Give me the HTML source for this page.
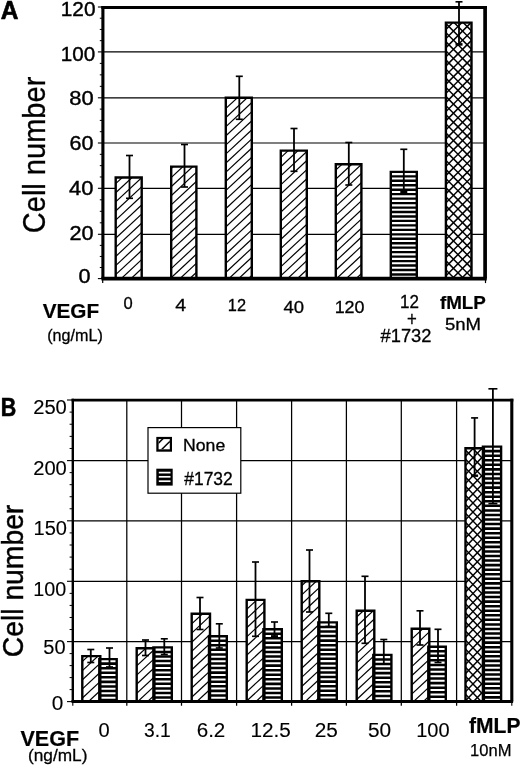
<!DOCTYPE html>
<html><head><meta charset="utf-8"><title>Figure</title>
<style>html,body{margin:0;padding:0;background:#fff;}svg{display:block;will-change:transform;filter:grayscale(1) blur(0.35px);}</style></head><body>
<svg width="520" height="768" viewBox="0 0 520 768" font-family='"Liberation Sans", sans-serif' fill="#000" stroke="#000">
<rect x="0" y="0" width="520" height="768" fill="#fff" stroke="none"/>
<line x1="102.90" y1="51.90" x2="485.00" y2="51.90" stroke-width="1.2"/>
<line x1="102.90" y1="97.80" x2="485.00" y2="97.80" stroke-width="1.2"/>
<line x1="102.90" y1="143.00" x2="485.00" y2="143.00" stroke-width="1.2"/>
<line x1="102.90" y1="188.30" x2="485.00" y2="188.30" stroke-width="1.2"/>
<line x1="102.90" y1="234.30" x2="485.00" y2="234.30" stroke-width="1.2"/>
<line x1="97.90" y1="278.60" x2="102.90" y2="278.60" stroke-width="1.1"/>
<line x1="97.90" y1="234.30" x2="102.90" y2="234.30" stroke-width="1.1"/>
<line x1="97.90" y1="188.30" x2="102.90" y2="188.30" stroke-width="1.1"/>
<line x1="97.90" y1="143.00" x2="102.90" y2="143.00" stroke-width="1.1"/>
<line x1="97.90" y1="97.80" x2="102.90" y2="97.80" stroke-width="1.1"/>
<line x1="97.90" y1="51.90" x2="102.90" y2="51.90" stroke-width="1.1"/>
<line x1="97.90" y1="7.00" x2="102.90" y2="7.00" stroke-width="1.1"/>
<line x1="99.80" y1="267.53" x2="102.90" y2="267.53" stroke-width="1.0"/>
<line x1="99.80" y1="256.45" x2="102.90" y2="256.45" stroke-width="1.0"/>
<line x1="99.80" y1="245.38" x2="102.90" y2="245.38" stroke-width="1.0"/>
<line x1="99.80" y1="222.80" x2="102.90" y2="222.80" stroke-width="1.0"/>
<line x1="99.80" y1="211.30" x2="102.90" y2="211.30" stroke-width="1.0"/>
<line x1="99.80" y1="199.80" x2="102.90" y2="199.80" stroke-width="1.0"/>
<line x1="99.80" y1="176.98" x2="102.90" y2="176.98" stroke-width="1.0"/>
<line x1="99.80" y1="165.65" x2="102.90" y2="165.65" stroke-width="1.0"/>
<line x1="99.80" y1="154.32" x2="102.90" y2="154.32" stroke-width="1.0"/>
<line x1="99.80" y1="131.70" x2="102.90" y2="131.70" stroke-width="1.0"/>
<line x1="99.80" y1="120.40" x2="102.90" y2="120.40" stroke-width="1.0"/>
<line x1="99.80" y1="109.10" x2="102.90" y2="109.10" stroke-width="1.0"/>
<line x1="99.80" y1="86.33" x2="102.90" y2="86.33" stroke-width="1.0"/>
<line x1="99.80" y1="74.85" x2="102.90" y2="74.85" stroke-width="1.0"/>
<line x1="99.80" y1="63.38" x2="102.90" y2="63.38" stroke-width="1.0"/>
<line x1="99.80" y1="40.67" x2="102.90" y2="40.67" stroke-width="1.0"/>
<line x1="99.80" y1="29.45" x2="102.90" y2="29.45" stroke-width="1.0"/>
<line x1="99.80" y1="18.23" x2="102.90" y2="18.23" stroke-width="1.0"/>
<clipPath id="c1"><rect x="115.70" y="177.50" width="26.00" height="101.10"/></clipPath>
<rect x="115.70" y="177.50" width="26.00" height="101.10" fill="#fff" stroke="none"/>
<g clip-path="url(#c1)">
<line x1="113.70" y1="167.31" x2="143.70" y2="139.41" stroke-width="1.2"/>
<line x1="113.70" y1="176.41" x2="143.70" y2="148.51" stroke-width="1.2"/>
<line x1="113.70" y1="185.51" x2="143.70" y2="157.61" stroke-width="1.2"/>
<line x1="113.70" y1="194.61" x2="143.70" y2="166.71" stroke-width="1.2"/>
<line x1="113.70" y1="203.71" x2="143.70" y2="175.81" stroke-width="1.2"/>
<line x1="113.70" y1="212.81" x2="143.70" y2="184.91" stroke-width="1.2"/>
<line x1="113.70" y1="221.91" x2="143.70" y2="194.01" stroke-width="1.2"/>
<line x1="113.70" y1="231.01" x2="143.70" y2="203.11" stroke-width="1.2"/>
<line x1="113.70" y1="240.11" x2="143.70" y2="212.21" stroke-width="1.2"/>
<line x1="113.70" y1="249.21" x2="143.70" y2="221.31" stroke-width="1.2"/>
<line x1="113.70" y1="258.31" x2="143.70" y2="230.41" stroke-width="1.2"/>
<line x1="113.70" y1="267.41" x2="143.70" y2="239.51" stroke-width="1.2"/>
<line x1="113.70" y1="276.51" x2="143.70" y2="248.61" stroke-width="1.2"/>
<line x1="113.70" y1="285.61" x2="143.70" y2="257.71" stroke-width="1.2"/>
<line x1="113.70" y1="294.71" x2="143.70" y2="266.81" stroke-width="1.2"/>
<line x1="113.70" y1="303.81" x2="143.70" y2="275.91" stroke-width="1.2"/>
<line x1="113.70" y1="312.91" x2="143.70" y2="285.01" stroke-width="1.2"/>
<line x1="113.70" y1="322.01" x2="143.70" y2="294.11" stroke-width="1.2"/>
</g>
<clipPath id="c2"><rect x="171.20" y="166.60" width="25.20" height="112.00"/></clipPath>
<rect x="171.20" y="166.60" width="25.20" height="112.00" fill="#fff" stroke="none"/>
<g clip-path="url(#c2)">
<line x1="169.20" y1="152.09" x2="198.40" y2="124.94" stroke-width="1.2"/>
<line x1="169.20" y1="161.19" x2="198.40" y2="134.04" stroke-width="1.2"/>
<line x1="169.20" y1="170.29" x2="198.40" y2="143.14" stroke-width="1.2"/>
<line x1="169.20" y1="179.39" x2="198.40" y2="152.24" stroke-width="1.2"/>
<line x1="169.20" y1="188.49" x2="198.40" y2="161.34" stroke-width="1.2"/>
<line x1="169.20" y1="197.59" x2="198.40" y2="170.44" stroke-width="1.2"/>
<line x1="169.20" y1="206.69" x2="198.40" y2="179.54" stroke-width="1.2"/>
<line x1="169.20" y1="215.79" x2="198.40" y2="188.64" stroke-width="1.2"/>
<line x1="169.20" y1="224.89" x2="198.40" y2="197.74" stroke-width="1.2"/>
<line x1="169.20" y1="233.99" x2="198.40" y2="206.84" stroke-width="1.2"/>
<line x1="169.20" y1="243.09" x2="198.40" y2="215.94" stroke-width="1.2"/>
<line x1="169.20" y1="252.19" x2="198.40" y2="225.04" stroke-width="1.2"/>
<line x1="169.20" y1="261.29" x2="198.40" y2="234.14" stroke-width="1.2"/>
<line x1="169.20" y1="270.39" x2="198.40" y2="243.24" stroke-width="1.2"/>
<line x1="169.20" y1="279.49" x2="198.40" y2="252.34" stroke-width="1.2"/>
<line x1="169.20" y1="288.59" x2="198.40" y2="261.44" stroke-width="1.2"/>
<line x1="169.20" y1="297.69" x2="198.40" y2="270.54" stroke-width="1.2"/>
<line x1="169.20" y1="306.79" x2="198.40" y2="279.64" stroke-width="1.2"/>
<line x1="169.20" y1="315.89" x2="198.40" y2="288.74" stroke-width="1.2"/>
</g>
<clipPath id="c3"><rect x="225.80" y="97.80" width="26.00" height="180.80"/></clipPath>
<rect x="225.80" y="97.80" width="26.00" height="180.80" fill="#fff" stroke="none"/>
<g clip-path="url(#c3)">
<line x1="223.80" y1="83.12" x2="253.80" y2="55.22" stroke-width="1.2"/>
<line x1="223.80" y1="92.22" x2="253.80" y2="64.32" stroke-width="1.2"/>
<line x1="223.80" y1="101.32" x2="253.80" y2="73.42" stroke-width="1.2"/>
<line x1="223.80" y1="110.42" x2="253.80" y2="82.52" stroke-width="1.2"/>
<line x1="223.80" y1="119.52" x2="253.80" y2="91.62" stroke-width="1.2"/>
<line x1="223.80" y1="128.62" x2="253.80" y2="100.72" stroke-width="1.2"/>
<line x1="223.80" y1="137.72" x2="253.80" y2="109.82" stroke-width="1.2"/>
<line x1="223.80" y1="146.82" x2="253.80" y2="118.92" stroke-width="1.2"/>
<line x1="223.80" y1="155.92" x2="253.80" y2="128.02" stroke-width="1.2"/>
<line x1="223.80" y1="165.02" x2="253.80" y2="137.12" stroke-width="1.2"/>
<line x1="223.80" y1="174.12" x2="253.80" y2="146.22" stroke-width="1.2"/>
<line x1="223.80" y1="183.22" x2="253.80" y2="155.32" stroke-width="1.2"/>
<line x1="223.80" y1="192.32" x2="253.80" y2="164.42" stroke-width="1.2"/>
<line x1="223.80" y1="201.42" x2="253.80" y2="173.52" stroke-width="1.2"/>
<line x1="223.80" y1="210.52" x2="253.80" y2="182.62" stroke-width="1.2"/>
<line x1="223.80" y1="219.62" x2="253.80" y2="191.72" stroke-width="1.2"/>
<line x1="223.80" y1="228.72" x2="253.80" y2="200.82" stroke-width="1.2"/>
<line x1="223.80" y1="237.82" x2="253.80" y2="209.92" stroke-width="1.2"/>
<line x1="223.80" y1="246.92" x2="253.80" y2="219.02" stroke-width="1.2"/>
<line x1="223.80" y1="256.02" x2="253.80" y2="228.12" stroke-width="1.2"/>
<line x1="223.80" y1="265.12" x2="253.80" y2="237.22" stroke-width="1.2"/>
<line x1="223.80" y1="274.22" x2="253.80" y2="246.32" stroke-width="1.2"/>
<line x1="223.80" y1="283.32" x2="253.80" y2="255.42" stroke-width="1.2"/>
<line x1="223.80" y1="292.42" x2="253.80" y2="264.52" stroke-width="1.2"/>
<line x1="223.80" y1="301.52" x2="253.80" y2="273.62" stroke-width="1.2"/>
<line x1="223.80" y1="310.62" x2="253.80" y2="282.72" stroke-width="1.2"/>
<line x1="223.80" y1="319.72" x2="253.80" y2="291.82" stroke-width="1.2"/>
</g>
<clipPath id="c4"><rect x="280.80" y="150.60" width="26.00" height="128.00"/></clipPath>
<rect x="280.80" y="150.60" width="26.00" height="128.00" fill="#fff" stroke="none"/>
<g clip-path="url(#c4)">
<line x1="278.80" y1="141.17" x2="308.80" y2="113.27" stroke-width="1.2"/>
<line x1="278.80" y1="150.27" x2="308.80" y2="122.37" stroke-width="1.2"/>
<line x1="278.80" y1="159.37" x2="308.80" y2="131.47" stroke-width="1.2"/>
<line x1="278.80" y1="168.47" x2="308.80" y2="140.57" stroke-width="1.2"/>
<line x1="278.80" y1="177.57" x2="308.80" y2="149.67" stroke-width="1.2"/>
<line x1="278.80" y1="186.67" x2="308.80" y2="158.77" stroke-width="1.2"/>
<line x1="278.80" y1="195.77" x2="308.80" y2="167.87" stroke-width="1.2"/>
<line x1="278.80" y1="204.87" x2="308.80" y2="176.97" stroke-width="1.2"/>
<line x1="278.80" y1="213.97" x2="308.80" y2="186.07" stroke-width="1.2"/>
<line x1="278.80" y1="223.07" x2="308.80" y2="195.17" stroke-width="1.2"/>
<line x1="278.80" y1="232.17" x2="308.80" y2="204.27" stroke-width="1.2"/>
<line x1="278.80" y1="241.27" x2="308.80" y2="213.37" stroke-width="1.2"/>
<line x1="278.80" y1="250.37" x2="308.80" y2="222.47" stroke-width="1.2"/>
<line x1="278.80" y1="259.47" x2="308.80" y2="231.57" stroke-width="1.2"/>
<line x1="278.80" y1="268.57" x2="308.80" y2="240.67" stroke-width="1.2"/>
<line x1="278.80" y1="277.67" x2="308.80" y2="249.77" stroke-width="1.2"/>
<line x1="278.80" y1="286.77" x2="308.80" y2="258.87" stroke-width="1.2"/>
<line x1="278.80" y1="295.87" x2="308.80" y2="267.97" stroke-width="1.2"/>
<line x1="278.80" y1="304.97" x2="308.80" y2="277.07" stroke-width="1.2"/>
<line x1="278.80" y1="314.07" x2="308.80" y2="286.17" stroke-width="1.2"/>
</g>
<clipPath id="c5"><rect x="335.80" y="164.20" width="25.60" height="114.40"/></clipPath>
<rect x="335.80" y="164.20" width="25.60" height="114.40" fill="#fff" stroke="none"/>
<g clip-path="url(#c5)">
<line x1="333.80" y1="153.72" x2="363.40" y2="126.19" stroke-width="1.2"/>
<line x1="333.80" y1="162.82" x2="363.40" y2="135.29" stroke-width="1.2"/>
<line x1="333.80" y1="171.92" x2="363.40" y2="144.39" stroke-width="1.2"/>
<line x1="333.80" y1="181.02" x2="363.40" y2="153.49" stroke-width="1.2"/>
<line x1="333.80" y1="190.12" x2="363.40" y2="162.59" stroke-width="1.2"/>
<line x1="333.80" y1="199.22" x2="363.40" y2="171.69" stroke-width="1.2"/>
<line x1="333.80" y1="208.32" x2="363.40" y2="180.79" stroke-width="1.2"/>
<line x1="333.80" y1="217.42" x2="363.40" y2="189.89" stroke-width="1.2"/>
<line x1="333.80" y1="226.52" x2="363.40" y2="198.99" stroke-width="1.2"/>
<line x1="333.80" y1="235.62" x2="363.40" y2="208.09" stroke-width="1.2"/>
<line x1="333.80" y1="244.72" x2="363.40" y2="217.19" stroke-width="1.2"/>
<line x1="333.80" y1="253.82" x2="363.40" y2="226.29" stroke-width="1.2"/>
<line x1="333.80" y1="262.92" x2="363.40" y2="235.39" stroke-width="1.2"/>
<line x1="333.80" y1="272.02" x2="363.40" y2="244.49" stroke-width="1.2"/>
<line x1="333.80" y1="281.12" x2="363.40" y2="253.59" stroke-width="1.2"/>
<line x1="333.80" y1="290.22" x2="363.40" y2="262.69" stroke-width="1.2"/>
<line x1="333.80" y1="299.32" x2="363.40" y2="271.79" stroke-width="1.2"/>
<line x1="333.80" y1="308.42" x2="363.40" y2="280.89" stroke-width="1.2"/>
<line x1="333.80" y1="317.52" x2="363.40" y2="289.99" stroke-width="1.2"/>
</g>
<clipPath id="c6"><rect x="390.80" y="171.90" width="26.00" height="106.70"/></clipPath>
<rect x="390.80" y="171.90" width="26.00" height="106.70" fill="#fff" stroke="none"/>
<g clip-path="url(#c6)">
<line x1="389.80" y1="176.33" x2="417.80" y2="176.33" stroke-width="2.35"/>
<line x1="389.80" y1="180.79" x2="417.80" y2="180.79" stroke-width="2.35"/>
<line x1="389.80" y1="185.25" x2="417.80" y2="185.25" stroke-width="2.35"/>
<line x1="389.80" y1="189.71" x2="417.80" y2="189.71" stroke-width="2.35"/>
<line x1="389.80" y1="194.17" x2="417.80" y2="194.17" stroke-width="2.35"/>
<line x1="389.80" y1="198.63" x2="417.80" y2="198.63" stroke-width="2.35"/>
<line x1="389.80" y1="203.09" x2="417.80" y2="203.09" stroke-width="2.35"/>
<line x1="389.80" y1="207.55" x2="417.80" y2="207.55" stroke-width="2.35"/>
<line x1="389.80" y1="212.01" x2="417.80" y2="212.01" stroke-width="2.35"/>
<line x1="389.80" y1="216.47" x2="417.80" y2="216.47" stroke-width="2.35"/>
<line x1="389.80" y1="220.93" x2="417.80" y2="220.93" stroke-width="2.35"/>
<line x1="389.80" y1="225.39" x2="417.80" y2="225.39" stroke-width="2.35"/>
<line x1="389.80" y1="229.85" x2="417.80" y2="229.85" stroke-width="2.35"/>
<line x1="389.80" y1="234.31" x2="417.80" y2="234.31" stroke-width="2.35"/>
<line x1="389.80" y1="238.77" x2="417.80" y2="238.77" stroke-width="2.35"/>
<line x1="389.80" y1="243.23" x2="417.80" y2="243.23" stroke-width="2.35"/>
<line x1="389.80" y1="247.69" x2="417.80" y2="247.69" stroke-width="2.35"/>
<line x1="389.80" y1="252.15" x2="417.80" y2="252.15" stroke-width="2.35"/>
<line x1="389.80" y1="256.61" x2="417.80" y2="256.61" stroke-width="2.35"/>
<line x1="389.80" y1="261.07" x2="417.80" y2="261.07" stroke-width="2.35"/>
<line x1="389.80" y1="265.53" x2="417.80" y2="265.53" stroke-width="2.35"/>
<line x1="389.80" y1="269.99" x2="417.80" y2="269.99" stroke-width="2.35"/>
<line x1="389.80" y1="274.45" x2="417.80" y2="274.45" stroke-width="2.35"/>
<line x1="389.80" y1="278.91" x2="417.80" y2="278.91" stroke-width="2.35"/>
</g>
<clipPath id="c7"><rect x="445.90" y="22.60" width="25.60" height="256.00"/></clipPath>
<rect x="445.90" y="22.60" width="25.60" height="256.00" fill="#fff" stroke="none"/>
<g clip-path="url(#c7)">
<line x1="443.90" y1="13.17" x2="473.50" y2="-16.43" stroke-width="1.5"/>
<line x1="443.90" y1="22.29" x2="473.50" y2="-7.31" stroke-width="1.5"/>
<line x1="443.90" y1="31.42" x2="473.50" y2="1.82" stroke-width="1.5"/>
<line x1="443.90" y1="40.54" x2="473.50" y2="10.94" stroke-width="1.5"/>
<line x1="443.90" y1="49.67" x2="473.50" y2="20.07" stroke-width="1.5"/>
<line x1="443.90" y1="58.79" x2="473.50" y2="29.19" stroke-width="1.5"/>
<line x1="443.90" y1="67.92" x2="473.50" y2="38.32" stroke-width="1.5"/>
<line x1="443.90" y1="77.04" x2="473.50" y2="47.44" stroke-width="1.5"/>
<line x1="443.90" y1="86.17" x2="473.50" y2="56.57" stroke-width="1.5"/>
<line x1="443.90" y1="95.29" x2="473.50" y2="65.69" stroke-width="1.5"/>
<line x1="443.90" y1="104.42" x2="473.50" y2="74.82" stroke-width="1.5"/>
<line x1="443.90" y1="113.54" x2="473.50" y2="83.94" stroke-width="1.5"/>
<line x1="443.90" y1="122.67" x2="473.50" y2="93.07" stroke-width="1.5"/>
<line x1="443.90" y1="131.79" x2="473.50" y2="102.19" stroke-width="1.5"/>
<line x1="443.90" y1="140.92" x2="473.50" y2="111.32" stroke-width="1.5"/>
<line x1="443.90" y1="150.04" x2="473.50" y2="120.44" stroke-width="1.5"/>
<line x1="443.90" y1="159.17" x2="473.50" y2="129.57" stroke-width="1.5"/>
<line x1="443.90" y1="168.29" x2="473.50" y2="138.69" stroke-width="1.5"/>
<line x1="443.90" y1="177.42" x2="473.50" y2="147.82" stroke-width="1.5"/>
<line x1="443.90" y1="186.54" x2="473.50" y2="156.94" stroke-width="1.5"/>
<line x1="443.90" y1="195.67" x2="473.50" y2="166.07" stroke-width="1.5"/>
<line x1="443.90" y1="204.79" x2="473.50" y2="175.19" stroke-width="1.5"/>
<line x1="443.90" y1="213.92" x2="473.50" y2="184.32" stroke-width="1.5"/>
<line x1="443.90" y1="223.04" x2="473.50" y2="193.44" stroke-width="1.5"/>
<line x1="443.90" y1="232.17" x2="473.50" y2="202.57" stroke-width="1.5"/>
<line x1="443.90" y1="241.29" x2="473.50" y2="211.69" stroke-width="1.5"/>
<line x1="443.90" y1="250.42" x2="473.50" y2="220.82" stroke-width="1.5"/>
<line x1="443.90" y1="259.54" x2="473.50" y2="229.94" stroke-width="1.5"/>
<line x1="443.90" y1="268.67" x2="473.50" y2="239.07" stroke-width="1.5"/>
<line x1="443.90" y1="277.79" x2="473.50" y2="248.19" stroke-width="1.5"/>
<line x1="443.90" y1="286.92" x2="473.50" y2="257.32" stroke-width="1.5"/>
<line x1="443.90" y1="296.04" x2="473.50" y2="266.44" stroke-width="1.5"/>
<line x1="443.90" y1="305.17" x2="473.50" y2="275.57" stroke-width="1.5"/>
<line x1="443.90" y1="314.29" x2="473.50" y2="284.69" stroke-width="1.5"/>
<line x1="443.90" y1="323.42" x2="473.50" y2="293.82" stroke-width="1.5"/>
<line x1="443.90" y1="-14.98" x2="473.50" y2="14.62" stroke-width="1.5"/>
<line x1="443.90" y1="-5.85" x2="473.50" y2="23.75" stroke-width="1.5"/>
<line x1="443.90" y1="3.27" x2="473.50" y2="32.88" stroke-width="1.5"/>
<line x1="443.90" y1="12.40" x2="473.50" y2="42.00" stroke-width="1.5"/>
<line x1="443.90" y1="21.52" x2="473.50" y2="51.12" stroke-width="1.5"/>
<line x1="443.90" y1="30.65" x2="473.50" y2="60.25" stroke-width="1.5"/>
<line x1="443.90" y1="39.77" x2="473.50" y2="69.38" stroke-width="1.5"/>
<line x1="443.90" y1="48.90" x2="473.50" y2="78.50" stroke-width="1.5"/>
<line x1="443.90" y1="58.02" x2="473.50" y2="87.62" stroke-width="1.5"/>
<line x1="443.90" y1="67.15" x2="473.50" y2="96.75" stroke-width="1.5"/>
<line x1="443.90" y1="76.27" x2="473.50" y2="105.88" stroke-width="1.5"/>
<line x1="443.90" y1="85.40" x2="473.50" y2="115.00" stroke-width="1.5"/>
<line x1="443.90" y1="94.52" x2="473.50" y2="124.12" stroke-width="1.5"/>
<line x1="443.90" y1="103.65" x2="473.50" y2="133.25" stroke-width="1.5"/>
<line x1="443.90" y1="112.77" x2="473.50" y2="142.38" stroke-width="1.5"/>
<line x1="443.90" y1="121.90" x2="473.50" y2="151.50" stroke-width="1.5"/>
<line x1="443.90" y1="131.02" x2="473.50" y2="160.62" stroke-width="1.5"/>
<line x1="443.90" y1="140.15" x2="473.50" y2="169.75" stroke-width="1.5"/>
<line x1="443.90" y1="149.27" x2="473.50" y2="178.88" stroke-width="1.5"/>
<line x1="443.90" y1="158.40" x2="473.50" y2="188.00" stroke-width="1.5"/>
<line x1="443.90" y1="167.52" x2="473.50" y2="197.12" stroke-width="1.5"/>
<line x1="443.90" y1="176.65" x2="473.50" y2="206.25" stroke-width="1.5"/>
<line x1="443.90" y1="185.77" x2="473.50" y2="215.38" stroke-width="1.5"/>
<line x1="443.90" y1="194.90" x2="473.50" y2="224.50" stroke-width="1.5"/>
<line x1="443.90" y1="204.02" x2="473.50" y2="233.62" stroke-width="1.5"/>
<line x1="443.90" y1="213.15" x2="473.50" y2="242.75" stroke-width="1.5"/>
<line x1="443.90" y1="222.27" x2="473.50" y2="251.88" stroke-width="1.5"/>
<line x1="443.90" y1="231.40" x2="473.50" y2="261.00" stroke-width="1.5"/>
<line x1="443.90" y1="240.52" x2="473.50" y2="270.12" stroke-width="1.5"/>
<line x1="443.90" y1="249.65" x2="473.50" y2="279.25" stroke-width="1.5"/>
<line x1="443.90" y1="258.77" x2="473.50" y2="288.38" stroke-width="1.5"/>
<line x1="443.90" y1="267.90" x2="473.50" y2="297.50" stroke-width="1.5"/>
<line x1="443.90" y1="277.02" x2="473.50" y2="306.62" stroke-width="1.5"/>
<line x1="443.90" y1="286.15" x2="473.50" y2="315.75" stroke-width="1.5"/>
</g>
<path d="M115.70,278.60 V177.50 H141.70 V278.60" fill="none" stroke-width="2.4" stroke-linejoin="miter"/>
<path d="M171.20,278.60 V166.60 H196.40 V278.60" fill="none" stroke-width="2.4" stroke-linejoin="miter"/>
<path d="M225.80,278.60 V97.80 H251.80 V278.60" fill="none" stroke-width="2.4" stroke-linejoin="miter"/>
<path d="M280.80,278.60 V150.60 H306.80 V278.60" fill="none" stroke-width="2.4" stroke-linejoin="miter"/>
<path d="M335.80,278.60 V164.20 H361.40 V278.60" fill="none" stroke-width="2.4" stroke-linejoin="miter"/>
<path d="M390.80,278.60 V171.90 H416.80 V278.60" fill="none" stroke-width="2.4" stroke-linejoin="miter"/>
<path d="M445.90,278.60 V22.60 H471.50 V278.60" fill="none" stroke-width="2.4" stroke-linejoin="miter"/>
<line x1="102.90" y1="278.60" x2="102.90" y2="6.00" stroke-width="3.1"/>
<line x1="101.35" y1="7.50" x2="486.90" y2="7.50" stroke-width="3.0"/>
<line x1="485.10" y1="6.00" x2="485.10" y2="278.60" stroke-width="3.7"/>
<line x1="101.40" y1="278.60" x2="486.75" y2="278.60" stroke-width="3.6"/>
<line x1="102.70" y1="278.60" x2="102.70" y2="283.10" stroke-width="1.2"/>
<line x1="485.50" y1="278.60" x2="485.50" y2="283.10" stroke-width="1.2"/>
<line x1="129.50" y1="155.50" x2="129.50" y2="198.30" stroke-width="1.8"/>
<line x1="126.00" y1="155.50" x2="133.00" y2="155.50" stroke-width="1.65"/>
<line x1="126.00" y1="198.30" x2="133.00" y2="198.30" stroke-width="1.65"/>
<line x1="184.50" y1="144.50" x2="184.50" y2="187.00" stroke-width="1.8"/>
<line x1="181.00" y1="144.50" x2="188.00" y2="144.50" stroke-width="1.65"/>
<line x1="181.00" y1="187.00" x2="188.00" y2="187.00" stroke-width="1.65"/>
<line x1="239.30" y1="76.30" x2="239.30" y2="119.30" stroke-width="1.8"/>
<line x1="235.80" y1="76.30" x2="242.80" y2="76.30" stroke-width="1.65"/>
<line x1="235.80" y1="119.30" x2="242.80" y2="119.30" stroke-width="1.65"/>
<line x1="294.00" y1="128.50" x2="294.00" y2="171.30" stroke-width="1.8"/>
<line x1="290.50" y1="128.50" x2="297.50" y2="128.50" stroke-width="1.65"/>
<line x1="290.50" y1="171.30" x2="297.50" y2="171.30" stroke-width="1.65"/>
<line x1="348.80" y1="142.50" x2="348.80" y2="185.00" stroke-width="1.8"/>
<line x1="345.30" y1="142.50" x2="352.30" y2="142.50" stroke-width="1.65"/>
<line x1="345.30" y1="185.00" x2="352.30" y2="185.00" stroke-width="1.65"/>
<line x1="403.80" y1="149.30" x2="403.80" y2="192.00" stroke-width="1.8"/>
<line x1="400.30" y1="149.30" x2="407.30" y2="149.30" stroke-width="1.65"/>
<line x1="400.30" y1="192.00" x2="407.30" y2="192.00" stroke-width="2.6"/>
<line x1="459.00" y1="1.80" x2="459.00" y2="44.40" stroke-width="1.8"/>
<line x1="455.50" y1="1.80" x2="462.50" y2="1.80" stroke-width="1.65"/>
<line x1="455.50" y1="44.40" x2="462.50" y2="44.40" stroke-width="2.6"/>
<g stroke="none">
<text x="60.8" y="16.1" font-size="20" textLength="34.71" lengthAdjust="spacingAndGlyphs" stroke="#000" stroke-width="0.4">120</text>
<text x="60.8" y="61.0" font-size="20" textLength="34.41" lengthAdjust="spacingAndGlyphs" stroke="#000" stroke-width="0.4">100</text>
<text x="69.3" y="105.3" font-size="20" textLength="24.41" lengthAdjust="spacingAndGlyphs" stroke="#000" stroke-width="0.4">80</text>
<text x="69.6" y="149.9" font-size="20" textLength="23.91" lengthAdjust="spacingAndGlyphs" stroke="#000" stroke-width="0.4">60</text>
<text x="69.1" y="194.9" font-size="20" textLength="24.41" lengthAdjust="spacingAndGlyphs" stroke="#000" stroke-width="0.4">40</text>
<text x="69.4" y="239.8" font-size="20" textLength="24.11" lengthAdjust="spacingAndGlyphs" stroke="#000" stroke-width="0.4">20</text>
<text x="78.6" y="282.6" font-size="20" textLength="12.0" lengthAdjust="spacingAndGlyphs" stroke="#000" stroke-width="0.4">0</text>
<text transform="translate(45.4,233.2) rotate(-90)" font-size="31" stroke="#000" stroke-width="0.3" textLength="156.5" lengthAdjust="spacingAndGlyphs">Cell number</text>
<text x="0.7" y="18.5" font-size="25" font-weight="bold" textLength="17.7" lengthAdjust="spacingAndGlyphs" stroke="#000" stroke-width="0.6">A</text>
<text x="42.7" y="317.5" font-size="21" font-weight="bold" textLength="56.39" lengthAdjust="spacingAndGlyphs" stroke="#000" stroke-width="0.2">VEGF</text>
<text x="47.25" y="340.5" font-size="16" textLength="55.51" lengthAdjust="spacingAndGlyphs" stroke="#000" stroke-width="0.3">(ng/mL)</text>
<text x="123.55" y="309.3" font-size="16" textLength="9.2" lengthAdjust="spacingAndGlyphs" stroke="#000" stroke-width="0.3">0</text>
<text x="175.35" y="311.0" font-size="17" textLength="10.9" lengthAdjust="spacingAndGlyphs" stroke="#000" stroke-width="0.3">4</text>
<text x="227.85" y="310.6" font-size="17.3" textLength="18.21" lengthAdjust="spacingAndGlyphs" stroke="#000" stroke-width="0.3">12</text>
<text x="283.45" y="313.2" font-size="17.3" textLength="20.61" lengthAdjust="spacingAndGlyphs" stroke="#000" stroke-width="0.3">40</text>
<text x="334.65" y="313.2" font-size="17" textLength="29.91" lengthAdjust="spacingAndGlyphs" stroke="#000" stroke-width="0.3">120</text>
<text x="400.05" y="308.1" font-size="17.5" textLength="18.91" lengthAdjust="spacingAndGlyphs" stroke="#000" stroke-width="0.3">12</text>
<text x="407.05" y="325.6" font-size="19.5" textLength="9.8" lengthAdjust="spacingAndGlyphs" stroke="#000" stroke-width="0.3">+</text>
<text x="380.55" y="342.4" font-size="18.3" textLength="50.9" lengthAdjust="spacingAndGlyphs" stroke="#000" stroke-width="0.3">#1732</text>
<text x="439.9" y="308.5" font-size="18" font-weight="bold" textLength="46.0" lengthAdjust="spacingAndGlyphs" stroke="#000" stroke-width="0.2">fMLP</text>
<text x="444.95" y="329.6" font-size="17.2" textLength="36.11" lengthAdjust="spacingAndGlyphs" stroke="#000" stroke-width="0.3">5nM</text>
</g>
<line x1="72.80" y1="460.60" x2="511.80" y2="460.60" stroke-width="1.25"/>
<line x1="72.80" y1="520.80" x2="511.80" y2="520.80" stroke-width="1.25"/>
<line x1="72.80" y1="581.30" x2="511.80" y2="581.30" stroke-width="1.25"/>
<line x1="72.80" y1="641.60" x2="511.80" y2="641.60" stroke-width="1.25"/>
<line x1="126.80" y1="400.20" x2="126.80" y2="705.80" stroke-width="1.25"/>
<line x1="181.50" y1="400.20" x2="181.50" y2="705.80" stroke-width="1.25"/>
<line x1="236.60" y1="400.20" x2="236.60" y2="705.80" stroke-width="1.25"/>
<line x1="291.60" y1="400.20" x2="291.60" y2="705.80" stroke-width="1.25"/>
<line x1="346.40" y1="400.20" x2="346.40" y2="705.80" stroke-width="1.25"/>
<line x1="401.30" y1="400.20" x2="401.30" y2="705.80" stroke-width="1.25"/>
<line x1="456.60" y1="400.20" x2="456.60" y2="705.80" stroke-width="1.25"/>
<line x1="67.00" y1="701.60" x2="72.80" y2="701.60" stroke-width="1.1"/>
<line x1="67.00" y1="641.60" x2="72.80" y2="641.60" stroke-width="1.1"/>
<line x1="67.00" y1="581.30" x2="72.80" y2="581.30" stroke-width="1.1"/>
<line x1="67.00" y1="520.80" x2="72.80" y2="520.80" stroke-width="1.1"/>
<line x1="67.00" y1="460.60" x2="72.80" y2="460.60" stroke-width="1.1"/>
<line x1="67.00" y1="400.00" x2="72.80" y2="400.00" stroke-width="1.1"/>
<line x1="69.60" y1="689.60" x2="72.80" y2="689.60" stroke-width="1.0"/>
<line x1="69.60" y1="677.60" x2="72.80" y2="677.60" stroke-width="1.0"/>
<line x1="69.60" y1="665.60" x2="72.80" y2="665.60" stroke-width="1.0"/>
<line x1="69.60" y1="653.60" x2="72.80" y2="653.60" stroke-width="1.0"/>
<line x1="69.60" y1="629.54" x2="72.80" y2="629.54" stroke-width="1.0"/>
<line x1="69.60" y1="617.48" x2="72.80" y2="617.48" stroke-width="1.0"/>
<line x1="69.60" y1="605.42" x2="72.80" y2="605.42" stroke-width="1.0"/>
<line x1="69.60" y1="593.36" x2="72.80" y2="593.36" stroke-width="1.0"/>
<line x1="69.60" y1="569.20" x2="72.80" y2="569.20" stroke-width="1.0"/>
<line x1="69.60" y1="557.10" x2="72.80" y2="557.10" stroke-width="1.0"/>
<line x1="69.60" y1="545.00" x2="72.80" y2="545.00" stroke-width="1.0"/>
<line x1="69.60" y1="532.90" x2="72.80" y2="532.90" stroke-width="1.0"/>
<line x1="69.60" y1="508.76" x2="72.80" y2="508.76" stroke-width="1.0"/>
<line x1="69.60" y1="496.72" x2="72.80" y2="496.72" stroke-width="1.0"/>
<line x1="69.60" y1="484.68" x2="72.80" y2="484.68" stroke-width="1.0"/>
<line x1="69.60" y1="472.64" x2="72.80" y2="472.64" stroke-width="1.0"/>
<line x1="69.60" y1="448.48" x2="72.80" y2="448.48" stroke-width="1.0"/>
<line x1="69.60" y1="436.36" x2="72.80" y2="436.36" stroke-width="1.0"/>
<line x1="69.60" y1="424.24" x2="72.80" y2="424.24" stroke-width="1.0"/>
<line x1="69.60" y1="412.12" x2="72.80" y2="412.12" stroke-width="1.0"/>
<clipPath id="c8"><rect x="82.30" y="656.10" width="18.00" height="45.50"/></clipPath>
<rect x="82.30" y="656.10" width="18.00" height="45.50" fill="#fff" stroke="none"/>
<g clip-path="url(#c8)">
<line x1="80.30" y1="645.06" x2="102.30" y2="624.60" stroke-width="1.2"/>
<line x1="80.30" y1="654.22" x2="102.30" y2="633.76" stroke-width="1.2"/>
<line x1="80.30" y1="663.38" x2="102.30" y2="642.92" stroke-width="1.2"/>
<line x1="80.30" y1="672.54" x2="102.30" y2="652.08" stroke-width="1.2"/>
<line x1="80.30" y1="681.70" x2="102.30" y2="661.24" stroke-width="1.2"/>
<line x1="80.30" y1="690.86" x2="102.30" y2="670.40" stroke-width="1.2"/>
<line x1="80.30" y1="700.02" x2="102.30" y2="679.56" stroke-width="1.2"/>
<line x1="80.30" y1="709.18" x2="102.30" y2="688.72" stroke-width="1.2"/>
<line x1="80.30" y1="718.34" x2="102.30" y2="697.88" stroke-width="1.2"/>
<line x1="80.30" y1="727.50" x2="102.30" y2="707.04" stroke-width="1.2"/>
<line x1="80.30" y1="736.66" x2="102.30" y2="716.20" stroke-width="1.2"/>
</g>
<clipPath id="c9"><rect x="99.30" y="659.10" width="17.40" height="42.50"/></clipPath>
<rect x="99.30" y="659.10" width="17.40" height="42.50" fill="#fff" stroke="none"/>
<g clip-path="url(#c9)">
<line x1="98.30" y1="663.62" x2="117.70" y2="663.62" stroke-width="2.55"/>
<line x1="98.30" y1="668.18" x2="117.70" y2="668.18" stroke-width="2.55"/>
<line x1="98.30" y1="672.74" x2="117.70" y2="672.74" stroke-width="2.55"/>
<line x1="98.30" y1="677.30" x2="117.70" y2="677.30" stroke-width="2.55"/>
<line x1="98.30" y1="681.86" x2="117.70" y2="681.86" stroke-width="2.55"/>
<line x1="98.30" y1="686.42" x2="117.70" y2="686.42" stroke-width="2.55"/>
<line x1="98.30" y1="690.98" x2="117.70" y2="690.98" stroke-width="2.55"/>
<line x1="98.30" y1="695.54" x2="117.70" y2="695.54" stroke-width="2.55"/>
<line x1="98.30" y1="700.10" x2="117.70" y2="700.10" stroke-width="2.55"/>
<line x1="98.30" y1="704.66" x2="117.70" y2="704.66" stroke-width="2.55"/>
</g>
<path d="M82.30,701.60 V656.10 H100.30 V701.60" fill="none" stroke-width="2.4" stroke-linejoin="miter"/>
<path d="M99.30,701.60 V659.10 H116.70 V701.60" fill="none" stroke-width="2.4" stroke-linejoin="miter"/>
<clipPath id="c10"><rect x="136.70" y="648.20" width="17.70" height="53.40"/></clipPath>
<rect x="136.70" y="648.20" width="17.70" height="53.40" fill="#fff" stroke="none"/>
<g clip-path="url(#c10)">
<line x1="134.70" y1="640.27" x2="156.40" y2="620.09" stroke-width="1.2"/>
<line x1="134.70" y1="649.43" x2="156.40" y2="629.25" stroke-width="1.2"/>
<line x1="134.70" y1="658.59" x2="156.40" y2="638.41" stroke-width="1.2"/>
<line x1="134.70" y1="667.75" x2="156.40" y2="647.57" stroke-width="1.2"/>
<line x1="134.70" y1="676.91" x2="156.40" y2="656.73" stroke-width="1.2"/>
<line x1="134.70" y1="686.07" x2="156.40" y2="665.89" stroke-width="1.2"/>
<line x1="134.70" y1="695.23" x2="156.40" y2="675.05" stroke-width="1.2"/>
<line x1="134.70" y1="704.39" x2="156.40" y2="684.21" stroke-width="1.2"/>
<line x1="134.70" y1="713.55" x2="156.40" y2="693.37" stroke-width="1.2"/>
<line x1="134.70" y1="722.71" x2="156.40" y2="702.53" stroke-width="1.2"/>
<line x1="134.70" y1="731.87" x2="156.40" y2="711.69" stroke-width="1.2"/>
</g>
<clipPath id="c11"><rect x="153.40" y="647.40" width="18.40" height="54.20"/></clipPath>
<rect x="153.40" y="647.40" width="18.40" height="54.20" fill="#fff" stroke="none"/>
<g clip-path="url(#c11)">
<line x1="152.40" y1="651.92" x2="172.80" y2="651.92" stroke-width="2.55"/>
<line x1="152.40" y1="656.48" x2="172.80" y2="656.48" stroke-width="2.55"/>
<line x1="152.40" y1="661.04" x2="172.80" y2="661.04" stroke-width="2.55"/>
<line x1="152.40" y1="665.60" x2="172.80" y2="665.60" stroke-width="2.55"/>
<line x1="152.40" y1="670.16" x2="172.80" y2="670.16" stroke-width="2.55"/>
<line x1="152.40" y1="674.72" x2="172.80" y2="674.72" stroke-width="2.55"/>
<line x1="152.40" y1="679.28" x2="172.80" y2="679.28" stroke-width="2.55"/>
<line x1="152.40" y1="683.84" x2="172.80" y2="683.84" stroke-width="2.55"/>
<line x1="152.40" y1="688.40" x2="172.80" y2="688.40" stroke-width="2.55"/>
<line x1="152.40" y1="692.96" x2="172.80" y2="692.96" stroke-width="2.55"/>
<line x1="152.40" y1="697.52" x2="172.80" y2="697.52" stroke-width="2.55"/>
<line x1="152.40" y1="702.08" x2="172.80" y2="702.08" stroke-width="2.55"/>
</g>
<path d="M136.70,701.60 V648.20 H154.40 V701.60" fill="none" stroke-width="2.4" stroke-linejoin="miter"/>
<path d="M153.40,701.60 V647.40 H171.80 V701.60" fill="none" stroke-width="2.4" stroke-linejoin="miter"/>
<clipPath id="c12"><rect x="191.70" y="613.70" width="18.30" height="87.90"/></clipPath>
<rect x="191.70" y="613.70" width="18.30" height="87.90" fill="#fff" stroke="none"/>
<g clip-path="url(#c12)">
<line x1="189.70" y1="598.28" x2="212.00" y2="577.54" stroke-width="1.2"/>
<line x1="189.70" y1="607.44" x2="212.00" y2="586.70" stroke-width="1.2"/>
<line x1="189.70" y1="616.60" x2="212.00" y2="595.86" stroke-width="1.2"/>
<line x1="189.70" y1="625.76" x2="212.00" y2="605.02" stroke-width="1.2"/>
<line x1="189.70" y1="634.92" x2="212.00" y2="614.18" stroke-width="1.2"/>
<line x1="189.70" y1="644.08" x2="212.00" y2="623.34" stroke-width="1.2"/>
<line x1="189.70" y1="653.24" x2="212.00" y2="632.50" stroke-width="1.2"/>
<line x1="189.70" y1="662.40" x2="212.00" y2="641.66" stroke-width="1.2"/>
<line x1="189.70" y1="671.56" x2="212.00" y2="650.82" stroke-width="1.2"/>
<line x1="189.70" y1="680.72" x2="212.00" y2="659.98" stroke-width="1.2"/>
<line x1="189.70" y1="689.88" x2="212.00" y2="669.14" stroke-width="1.2"/>
<line x1="189.70" y1="699.04" x2="212.00" y2="678.30" stroke-width="1.2"/>
<line x1="189.70" y1="708.20" x2="212.00" y2="687.46" stroke-width="1.2"/>
<line x1="189.70" y1="717.36" x2="212.00" y2="696.62" stroke-width="1.2"/>
<line x1="189.70" y1="726.52" x2="212.00" y2="705.78" stroke-width="1.2"/>
<line x1="189.70" y1="735.68" x2="212.00" y2="714.94" stroke-width="1.2"/>
</g>
<clipPath id="c13"><rect x="209.00" y="636.20" width="17.80" height="65.40"/></clipPath>
<rect x="209.00" y="636.20" width="17.80" height="65.40" fill="#fff" stroke="none"/>
<g clip-path="url(#c13)">
<line x1="208.00" y1="640.72" x2="227.80" y2="640.72" stroke-width="2.55"/>
<line x1="208.00" y1="645.28" x2="227.80" y2="645.28" stroke-width="2.55"/>
<line x1="208.00" y1="649.84" x2="227.80" y2="649.84" stroke-width="2.55"/>
<line x1="208.00" y1="654.40" x2="227.80" y2="654.40" stroke-width="2.55"/>
<line x1="208.00" y1="658.96" x2="227.80" y2="658.96" stroke-width="2.55"/>
<line x1="208.00" y1="663.52" x2="227.80" y2="663.52" stroke-width="2.55"/>
<line x1="208.00" y1="668.08" x2="227.80" y2="668.08" stroke-width="2.55"/>
<line x1="208.00" y1="672.64" x2="227.80" y2="672.64" stroke-width="2.55"/>
<line x1="208.00" y1="677.20" x2="227.80" y2="677.20" stroke-width="2.55"/>
<line x1="208.00" y1="681.76" x2="227.80" y2="681.76" stroke-width="2.55"/>
<line x1="208.00" y1="686.32" x2="227.80" y2="686.32" stroke-width="2.55"/>
<line x1="208.00" y1="690.88" x2="227.80" y2="690.88" stroke-width="2.55"/>
<line x1="208.00" y1="695.44" x2="227.80" y2="695.44" stroke-width="2.55"/>
<line x1="208.00" y1="700.00" x2="227.80" y2="700.00" stroke-width="2.55"/>
<line x1="208.00" y1="704.56" x2="227.80" y2="704.56" stroke-width="2.55"/>
</g>
<path d="M191.70,701.60 V613.70 H210.00 V701.60" fill="none" stroke-width="2.4" stroke-linejoin="miter"/>
<path d="M209.00,701.60 V636.20 H226.80 V701.60" fill="none" stroke-width="2.4" stroke-linejoin="miter"/>
<clipPath id="c14"><rect x="246.70" y="599.90" width="17.70" height="101.70"/></clipPath>
<rect x="246.70" y="599.90" width="17.70" height="101.70" fill="#fff" stroke="none"/>
<g clip-path="url(#c14)">
<line x1="244.70" y1="583.77" x2="266.40" y2="563.59" stroke-width="1.2"/>
<line x1="244.70" y1="592.93" x2="266.40" y2="572.75" stroke-width="1.2"/>
<line x1="244.70" y1="602.09" x2="266.40" y2="581.91" stroke-width="1.2"/>
<line x1="244.70" y1="611.25" x2="266.40" y2="591.07" stroke-width="1.2"/>
<line x1="244.70" y1="620.41" x2="266.40" y2="600.23" stroke-width="1.2"/>
<line x1="244.70" y1="629.57" x2="266.40" y2="609.39" stroke-width="1.2"/>
<line x1="244.70" y1="638.73" x2="266.40" y2="618.55" stroke-width="1.2"/>
<line x1="244.70" y1="647.89" x2="266.40" y2="627.71" stroke-width="1.2"/>
<line x1="244.70" y1="657.05" x2="266.40" y2="636.87" stroke-width="1.2"/>
<line x1="244.70" y1="666.21" x2="266.40" y2="646.03" stroke-width="1.2"/>
<line x1="244.70" y1="675.37" x2="266.40" y2="655.19" stroke-width="1.2"/>
<line x1="244.70" y1="684.53" x2="266.40" y2="664.35" stroke-width="1.2"/>
<line x1="244.70" y1="693.69" x2="266.40" y2="673.51" stroke-width="1.2"/>
<line x1="244.70" y1="702.85" x2="266.40" y2="682.67" stroke-width="1.2"/>
<line x1="244.70" y1="712.01" x2="266.40" y2="691.83" stroke-width="1.2"/>
<line x1="244.70" y1="721.17" x2="266.40" y2="700.99" stroke-width="1.2"/>
<line x1="244.70" y1="730.33" x2="266.40" y2="710.15" stroke-width="1.2"/>
</g>
<clipPath id="c15"><rect x="263.40" y="629.20" width="18.40" height="72.40"/></clipPath>
<rect x="263.40" y="629.20" width="18.40" height="72.40" fill="#fff" stroke="none"/>
<g clip-path="url(#c15)">
<line x1="262.40" y1="633.72" x2="282.80" y2="633.72" stroke-width="2.55"/>
<line x1="262.40" y1="638.28" x2="282.80" y2="638.28" stroke-width="2.55"/>
<line x1="262.40" y1="642.84" x2="282.80" y2="642.84" stroke-width="2.55"/>
<line x1="262.40" y1="647.40" x2="282.80" y2="647.40" stroke-width="2.55"/>
<line x1="262.40" y1="651.96" x2="282.80" y2="651.96" stroke-width="2.55"/>
<line x1="262.40" y1="656.52" x2="282.80" y2="656.52" stroke-width="2.55"/>
<line x1="262.40" y1="661.08" x2="282.80" y2="661.08" stroke-width="2.55"/>
<line x1="262.40" y1="665.64" x2="282.80" y2="665.64" stroke-width="2.55"/>
<line x1="262.40" y1="670.20" x2="282.80" y2="670.20" stroke-width="2.55"/>
<line x1="262.40" y1="674.76" x2="282.80" y2="674.76" stroke-width="2.55"/>
<line x1="262.40" y1="679.32" x2="282.80" y2="679.32" stroke-width="2.55"/>
<line x1="262.40" y1="683.88" x2="282.80" y2="683.88" stroke-width="2.55"/>
<line x1="262.40" y1="688.44" x2="282.80" y2="688.44" stroke-width="2.55"/>
<line x1="262.40" y1="693.00" x2="282.80" y2="693.00" stroke-width="2.55"/>
<line x1="262.40" y1="697.56" x2="282.80" y2="697.56" stroke-width="2.55"/>
<line x1="262.40" y1="702.12" x2="282.80" y2="702.12" stroke-width="2.55"/>
</g>
<path d="M246.70,701.60 V599.90 H264.40 V701.60" fill="none" stroke-width="2.4" stroke-linejoin="miter"/>
<path d="M263.40,701.60 V629.20 H281.80 V701.60" fill="none" stroke-width="2.4" stroke-linejoin="miter"/>
<clipPath id="c16"><rect x="301.70" y="581.20" width="17.60" height="120.40"/></clipPath>
<rect x="301.70" y="581.20" width="17.60" height="120.40" fill="#fff" stroke="none"/>
<g clip-path="url(#c16)">
<line x1="299.70" y1="569.26" x2="321.30" y2="549.17" stroke-width="1.2"/>
<line x1="299.70" y1="578.42" x2="321.30" y2="558.33" stroke-width="1.2"/>
<line x1="299.70" y1="587.58" x2="321.30" y2="567.49" stroke-width="1.2"/>
<line x1="299.70" y1="596.74" x2="321.30" y2="576.65" stroke-width="1.2"/>
<line x1="299.70" y1="605.90" x2="321.30" y2="585.81" stroke-width="1.2"/>
<line x1="299.70" y1="615.06" x2="321.30" y2="594.97" stroke-width="1.2"/>
<line x1="299.70" y1="624.22" x2="321.30" y2="604.13" stroke-width="1.2"/>
<line x1="299.70" y1="633.38" x2="321.30" y2="613.29" stroke-width="1.2"/>
<line x1="299.70" y1="642.54" x2="321.30" y2="622.45" stroke-width="1.2"/>
<line x1="299.70" y1="651.70" x2="321.30" y2="631.61" stroke-width="1.2"/>
<line x1="299.70" y1="660.86" x2="321.30" y2="640.77" stroke-width="1.2"/>
<line x1="299.70" y1="670.02" x2="321.30" y2="649.93" stroke-width="1.2"/>
<line x1="299.70" y1="679.18" x2="321.30" y2="659.09" stroke-width="1.2"/>
<line x1="299.70" y1="688.34" x2="321.30" y2="668.25" stroke-width="1.2"/>
<line x1="299.70" y1="697.50" x2="321.30" y2="677.41" stroke-width="1.2"/>
<line x1="299.70" y1="706.66" x2="321.30" y2="686.57" stroke-width="1.2"/>
<line x1="299.70" y1="715.82" x2="321.30" y2="695.73" stroke-width="1.2"/>
<line x1="299.70" y1="724.98" x2="321.30" y2="704.89" stroke-width="1.2"/>
<line x1="299.70" y1="734.14" x2="321.30" y2="714.05" stroke-width="1.2"/>
</g>
<clipPath id="c17"><rect x="318.30" y="622.40" width="18.50" height="79.20"/></clipPath>
<rect x="318.30" y="622.40" width="18.50" height="79.20" fill="#fff" stroke="none"/>
<g clip-path="url(#c17)">
<line x1="317.30" y1="626.92" x2="337.80" y2="626.92" stroke-width="2.55"/>
<line x1="317.30" y1="631.48" x2="337.80" y2="631.48" stroke-width="2.55"/>
<line x1="317.30" y1="636.04" x2="337.80" y2="636.04" stroke-width="2.55"/>
<line x1="317.30" y1="640.60" x2="337.80" y2="640.60" stroke-width="2.55"/>
<line x1="317.30" y1="645.16" x2="337.80" y2="645.16" stroke-width="2.55"/>
<line x1="317.30" y1="649.72" x2="337.80" y2="649.72" stroke-width="2.55"/>
<line x1="317.30" y1="654.28" x2="337.80" y2="654.28" stroke-width="2.55"/>
<line x1="317.30" y1="658.84" x2="337.80" y2="658.84" stroke-width="2.55"/>
<line x1="317.30" y1="663.40" x2="337.80" y2="663.40" stroke-width="2.55"/>
<line x1="317.30" y1="667.96" x2="337.80" y2="667.96" stroke-width="2.55"/>
<line x1="317.30" y1="672.52" x2="337.80" y2="672.52" stroke-width="2.55"/>
<line x1="317.30" y1="677.08" x2="337.80" y2="677.08" stroke-width="2.55"/>
<line x1="317.30" y1="681.64" x2="337.80" y2="681.64" stroke-width="2.55"/>
<line x1="317.30" y1="686.20" x2="337.80" y2="686.20" stroke-width="2.55"/>
<line x1="317.30" y1="690.76" x2="337.80" y2="690.76" stroke-width="2.55"/>
<line x1="317.30" y1="695.32" x2="337.80" y2="695.32" stroke-width="2.55"/>
<line x1="317.30" y1="699.88" x2="337.80" y2="699.88" stroke-width="2.55"/>
<line x1="317.30" y1="704.44" x2="337.80" y2="704.44" stroke-width="2.55"/>
</g>
<path d="M301.70,701.60 V581.20 H319.30 V701.60" fill="none" stroke-width="2.4" stroke-linejoin="miter"/>
<path d="M318.30,701.60 V622.40 H336.80 V701.60" fill="none" stroke-width="2.4" stroke-linejoin="miter"/>
<clipPath id="c18"><rect x="356.70" y="610.70" width="17.60" height="90.90"/></clipPath>
<rect x="356.70" y="610.70" width="17.60" height="90.90" fill="#fff" stroke="none"/>
<g clip-path="url(#c18)">
<line x1="354.70" y1="600.55" x2="376.30" y2="580.46" stroke-width="1.2"/>
<line x1="354.70" y1="609.71" x2="376.30" y2="589.62" stroke-width="1.2"/>
<line x1="354.70" y1="618.87" x2="376.30" y2="598.78" stroke-width="1.2"/>
<line x1="354.70" y1="628.03" x2="376.30" y2="607.94" stroke-width="1.2"/>
<line x1="354.70" y1="637.19" x2="376.30" y2="617.10" stroke-width="1.2"/>
<line x1="354.70" y1="646.35" x2="376.30" y2="626.26" stroke-width="1.2"/>
<line x1="354.70" y1="655.51" x2="376.30" y2="635.42" stroke-width="1.2"/>
<line x1="354.70" y1="664.67" x2="376.30" y2="644.58" stroke-width="1.2"/>
<line x1="354.70" y1="673.83" x2="376.30" y2="653.74" stroke-width="1.2"/>
<line x1="354.70" y1="682.99" x2="376.30" y2="662.90" stroke-width="1.2"/>
<line x1="354.70" y1="692.15" x2="376.30" y2="672.06" stroke-width="1.2"/>
<line x1="354.70" y1="701.31" x2="376.30" y2="681.22" stroke-width="1.2"/>
<line x1="354.70" y1="710.47" x2="376.30" y2="690.38" stroke-width="1.2"/>
<line x1="354.70" y1="719.63" x2="376.30" y2="699.54" stroke-width="1.2"/>
<line x1="354.70" y1="728.79" x2="376.30" y2="708.70" stroke-width="1.2"/>
<line x1="354.70" y1="737.95" x2="376.30" y2="717.86" stroke-width="1.2"/>
</g>
<clipPath id="c19"><rect x="373.30" y="654.90" width="18.10" height="46.70"/></clipPath>
<rect x="373.30" y="654.90" width="18.10" height="46.70" fill="#fff" stroke="none"/>
<g clip-path="url(#c19)">
<line x1="372.30" y1="659.42" x2="392.40" y2="659.42" stroke-width="2.55"/>
<line x1="372.30" y1="663.98" x2="392.40" y2="663.98" stroke-width="2.55"/>
<line x1="372.30" y1="668.54" x2="392.40" y2="668.54" stroke-width="2.55"/>
<line x1="372.30" y1="673.10" x2="392.40" y2="673.10" stroke-width="2.55"/>
<line x1="372.30" y1="677.66" x2="392.40" y2="677.66" stroke-width="2.55"/>
<line x1="372.30" y1="682.22" x2="392.40" y2="682.22" stroke-width="2.55"/>
<line x1="372.30" y1="686.78" x2="392.40" y2="686.78" stroke-width="2.55"/>
<line x1="372.30" y1="691.34" x2="392.40" y2="691.34" stroke-width="2.55"/>
<line x1="372.30" y1="695.90" x2="392.40" y2="695.90" stroke-width="2.55"/>
<line x1="372.30" y1="700.46" x2="392.40" y2="700.46" stroke-width="2.55"/>
<line x1="372.30" y1="705.02" x2="392.40" y2="705.02" stroke-width="2.55"/>
</g>
<path d="M356.70,701.60 V610.70 H374.30 V701.60" fill="none" stroke-width="2.4" stroke-linejoin="miter"/>
<path d="M373.30,701.60 V654.90 H391.40 V701.60" fill="none" stroke-width="2.4" stroke-linejoin="miter"/>
<clipPath id="c20"><rect x="411.70" y="628.70" width="17.60" height="72.90"/></clipPath>
<rect x="411.70" y="628.70" width="17.60" height="72.90" fill="#fff" stroke="none"/>
<g clip-path="url(#c20)">
<line x1="409.70" y1="613.52" x2="431.30" y2="593.43" stroke-width="1.2"/>
<line x1="409.70" y1="622.68" x2="431.30" y2="602.59" stroke-width="1.2"/>
<line x1="409.70" y1="631.84" x2="431.30" y2="611.75" stroke-width="1.2"/>
<line x1="409.70" y1="641.00" x2="431.30" y2="620.91" stroke-width="1.2"/>
<line x1="409.70" y1="650.16" x2="431.30" y2="630.07" stroke-width="1.2"/>
<line x1="409.70" y1="659.32" x2="431.30" y2="639.23" stroke-width="1.2"/>
<line x1="409.70" y1="668.48" x2="431.30" y2="648.39" stroke-width="1.2"/>
<line x1="409.70" y1="677.64" x2="431.30" y2="657.55" stroke-width="1.2"/>
<line x1="409.70" y1="686.80" x2="431.30" y2="666.71" stroke-width="1.2"/>
<line x1="409.70" y1="695.96" x2="431.30" y2="675.87" stroke-width="1.2"/>
<line x1="409.70" y1="705.12" x2="431.30" y2="685.03" stroke-width="1.2"/>
<line x1="409.70" y1="714.28" x2="431.30" y2="694.19" stroke-width="1.2"/>
<line x1="409.70" y1="723.44" x2="431.30" y2="703.35" stroke-width="1.2"/>
<line x1="409.70" y1="732.60" x2="431.30" y2="712.51" stroke-width="1.2"/>
</g>
<clipPath id="c21"><rect x="428.30" y="646.70" width="17.50" height="54.90"/></clipPath>
<rect x="428.30" y="646.70" width="17.50" height="54.90" fill="#fff" stroke="none"/>
<g clip-path="url(#c21)">
<line x1="427.30" y1="651.22" x2="446.80" y2="651.22" stroke-width="2.55"/>
<line x1="427.30" y1="655.78" x2="446.80" y2="655.78" stroke-width="2.55"/>
<line x1="427.30" y1="660.34" x2="446.80" y2="660.34" stroke-width="2.55"/>
<line x1="427.30" y1="664.90" x2="446.80" y2="664.90" stroke-width="2.55"/>
<line x1="427.30" y1="669.46" x2="446.80" y2="669.46" stroke-width="2.55"/>
<line x1="427.30" y1="674.02" x2="446.80" y2="674.02" stroke-width="2.55"/>
<line x1="427.30" y1="678.58" x2="446.80" y2="678.58" stroke-width="2.55"/>
<line x1="427.30" y1="683.14" x2="446.80" y2="683.14" stroke-width="2.55"/>
<line x1="427.30" y1="687.70" x2="446.80" y2="687.70" stroke-width="2.55"/>
<line x1="427.30" y1="692.26" x2="446.80" y2="692.26" stroke-width="2.55"/>
<line x1="427.30" y1="696.82" x2="446.80" y2="696.82" stroke-width="2.55"/>
<line x1="427.30" y1="701.38" x2="446.80" y2="701.38" stroke-width="2.55"/>
<line x1="427.30" y1="705.94" x2="446.80" y2="705.94" stroke-width="2.55"/>
</g>
<path d="M411.70,701.60 V628.70 H429.30 V701.60" fill="none" stroke-width="2.4" stroke-linejoin="miter"/>
<path d="M428.30,701.60 V646.70 H445.80 V701.60" fill="none" stroke-width="2.4" stroke-linejoin="miter"/>
<clipPath id="c22"><rect x="465.50" y="448.20" width="18.40" height="253.40"/></clipPath>
<rect x="465.50" y="448.20" width="18.40" height="253.40" fill="#fff" stroke="none"/>
<g clip-path="url(#c22)">
<line x1="463.50" y1="440.36" x2="485.90" y2="417.20" stroke-width="1.45"/>
<line x1="463.50" y1="449.41" x2="485.90" y2="426.25" stroke-width="1.45"/>
<line x1="463.50" y1="458.46" x2="485.90" y2="435.30" stroke-width="1.45"/>
<line x1="463.50" y1="467.51" x2="485.90" y2="444.35" stroke-width="1.45"/>
<line x1="463.50" y1="476.56" x2="485.90" y2="453.40" stroke-width="1.45"/>
<line x1="463.50" y1="485.61" x2="485.90" y2="462.45" stroke-width="1.45"/>
<line x1="463.50" y1="494.66" x2="485.90" y2="471.50" stroke-width="1.45"/>
<line x1="463.50" y1="503.71" x2="485.90" y2="480.55" stroke-width="1.45"/>
<line x1="463.50" y1="512.76" x2="485.90" y2="489.60" stroke-width="1.45"/>
<line x1="463.50" y1="521.81" x2="485.90" y2="498.65" stroke-width="1.45"/>
<line x1="463.50" y1="530.86" x2="485.90" y2="507.70" stroke-width="1.45"/>
<line x1="463.50" y1="539.91" x2="485.90" y2="516.75" stroke-width="1.45"/>
<line x1="463.50" y1="548.96" x2="485.90" y2="525.80" stroke-width="1.45"/>
<line x1="463.50" y1="558.01" x2="485.90" y2="534.85" stroke-width="1.45"/>
<line x1="463.50" y1="567.06" x2="485.90" y2="543.90" stroke-width="1.45"/>
<line x1="463.50" y1="576.11" x2="485.90" y2="552.95" stroke-width="1.45"/>
<line x1="463.50" y1="585.16" x2="485.90" y2="562.00" stroke-width="1.45"/>
<line x1="463.50" y1="594.21" x2="485.90" y2="571.05" stroke-width="1.45"/>
<line x1="463.50" y1="603.26" x2="485.90" y2="580.10" stroke-width="1.45"/>
<line x1="463.50" y1="612.31" x2="485.90" y2="589.15" stroke-width="1.45"/>
<line x1="463.50" y1="621.36" x2="485.90" y2="598.20" stroke-width="1.45"/>
<line x1="463.50" y1="630.41" x2="485.90" y2="607.25" stroke-width="1.45"/>
<line x1="463.50" y1="639.46" x2="485.90" y2="616.30" stroke-width="1.45"/>
<line x1="463.50" y1="648.51" x2="485.90" y2="625.35" stroke-width="1.45"/>
<line x1="463.50" y1="657.56" x2="485.90" y2="634.40" stroke-width="1.45"/>
<line x1="463.50" y1="666.61" x2="485.90" y2="643.45" stroke-width="1.45"/>
<line x1="463.50" y1="675.66" x2="485.90" y2="652.50" stroke-width="1.45"/>
<line x1="463.50" y1="684.71" x2="485.90" y2="661.55" stroke-width="1.45"/>
<line x1="463.50" y1="693.76" x2="485.90" y2="670.60" stroke-width="1.45"/>
<line x1="463.50" y1="702.81" x2="485.90" y2="679.65" stroke-width="1.45"/>
<line x1="463.50" y1="711.86" x2="485.90" y2="688.70" stroke-width="1.45"/>
<line x1="463.50" y1="720.91" x2="485.90" y2="697.75" stroke-width="1.45"/>
<line x1="463.50" y1="729.96" x2="485.90" y2="706.80" stroke-width="1.45"/>
<line x1="463.50" y1="739.01" x2="485.90" y2="715.85" stroke-width="1.45"/>
<line x1="463.50" y1="411.73" x2="485.90" y2="434.89" stroke-width="1.45"/>
<line x1="463.50" y1="420.78" x2="485.90" y2="443.94" stroke-width="1.45"/>
<line x1="463.50" y1="429.83" x2="485.90" y2="452.99" stroke-width="1.45"/>
<line x1="463.50" y1="438.88" x2="485.90" y2="462.04" stroke-width="1.45"/>
<line x1="463.50" y1="447.93" x2="485.90" y2="471.09" stroke-width="1.45"/>
<line x1="463.50" y1="456.98" x2="485.90" y2="480.14" stroke-width="1.45"/>
<line x1="463.50" y1="466.03" x2="485.90" y2="489.19" stroke-width="1.45"/>
<line x1="463.50" y1="475.08" x2="485.90" y2="498.24" stroke-width="1.45"/>
<line x1="463.50" y1="484.13" x2="485.90" y2="507.29" stroke-width="1.45"/>
<line x1="463.50" y1="493.18" x2="485.90" y2="516.34" stroke-width="1.45"/>
<line x1="463.50" y1="502.23" x2="485.90" y2="525.39" stroke-width="1.45"/>
<line x1="463.50" y1="511.28" x2="485.90" y2="534.44" stroke-width="1.45"/>
<line x1="463.50" y1="520.33" x2="485.90" y2="543.49" stroke-width="1.45"/>
<line x1="463.50" y1="529.38" x2="485.90" y2="552.54" stroke-width="1.45"/>
<line x1="463.50" y1="538.43" x2="485.90" y2="561.59" stroke-width="1.45"/>
<line x1="463.50" y1="547.48" x2="485.90" y2="570.64" stroke-width="1.45"/>
<line x1="463.50" y1="556.53" x2="485.90" y2="579.69" stroke-width="1.45"/>
<line x1="463.50" y1="565.58" x2="485.90" y2="588.74" stroke-width="1.45"/>
<line x1="463.50" y1="574.63" x2="485.90" y2="597.79" stroke-width="1.45"/>
<line x1="463.50" y1="583.68" x2="485.90" y2="606.84" stroke-width="1.45"/>
<line x1="463.50" y1="592.73" x2="485.90" y2="615.89" stroke-width="1.45"/>
<line x1="463.50" y1="601.78" x2="485.90" y2="624.94" stroke-width="1.45"/>
<line x1="463.50" y1="610.83" x2="485.90" y2="633.99" stroke-width="1.45"/>
<line x1="463.50" y1="619.88" x2="485.90" y2="643.04" stroke-width="1.45"/>
<line x1="463.50" y1="628.93" x2="485.90" y2="652.09" stroke-width="1.45"/>
<line x1="463.50" y1="637.98" x2="485.90" y2="661.14" stroke-width="1.45"/>
<line x1="463.50" y1="647.03" x2="485.90" y2="670.19" stroke-width="1.45"/>
<line x1="463.50" y1="656.08" x2="485.90" y2="679.24" stroke-width="1.45"/>
<line x1="463.50" y1="665.13" x2="485.90" y2="688.29" stroke-width="1.45"/>
<line x1="463.50" y1="674.18" x2="485.90" y2="697.34" stroke-width="1.45"/>
<line x1="463.50" y1="683.23" x2="485.90" y2="706.39" stroke-width="1.45"/>
<line x1="463.50" y1="692.28" x2="485.90" y2="715.44" stroke-width="1.45"/>
<line x1="463.50" y1="701.33" x2="485.90" y2="724.49" stroke-width="1.45"/>
<line x1="463.50" y1="710.38" x2="485.90" y2="733.54" stroke-width="1.45"/>
</g>
<clipPath id="c23"><rect x="482.90" y="446.60" width="18.20" height="255.00"/></clipPath>
<rect x="482.90" y="446.60" width="18.20" height="255.00" fill="#fff" stroke="none"/>
<g clip-path="url(#c23)">
<line x1="481.90" y1="451.12" x2="502.10" y2="451.12" stroke-width="2.55"/>
<line x1="481.90" y1="455.68" x2="502.10" y2="455.68" stroke-width="2.55"/>
<line x1="481.90" y1="460.24" x2="502.10" y2="460.24" stroke-width="2.55"/>
<line x1="481.90" y1="464.80" x2="502.10" y2="464.80" stroke-width="2.55"/>
<line x1="481.90" y1="469.36" x2="502.10" y2="469.36" stroke-width="2.55"/>
<line x1="481.90" y1="473.92" x2="502.10" y2="473.92" stroke-width="2.55"/>
<line x1="481.90" y1="478.48" x2="502.10" y2="478.48" stroke-width="2.55"/>
<line x1="481.90" y1="483.04" x2="502.10" y2="483.04" stroke-width="2.55"/>
<line x1="481.90" y1="487.60" x2="502.10" y2="487.60" stroke-width="2.55"/>
<line x1="481.90" y1="492.16" x2="502.10" y2="492.16" stroke-width="2.55"/>
<line x1="481.90" y1="496.72" x2="502.10" y2="496.72" stroke-width="2.55"/>
<line x1="481.90" y1="501.28" x2="502.10" y2="501.28" stroke-width="2.55"/>
<line x1="481.90" y1="505.84" x2="502.10" y2="505.84" stroke-width="2.55"/>
<line x1="481.90" y1="510.40" x2="502.10" y2="510.40" stroke-width="2.55"/>
<line x1="481.90" y1="514.96" x2="502.10" y2="514.96" stroke-width="2.55"/>
<line x1="481.90" y1="519.52" x2="502.10" y2="519.52" stroke-width="2.55"/>
<line x1="481.90" y1="524.08" x2="502.10" y2="524.08" stroke-width="2.55"/>
<line x1="481.90" y1="528.64" x2="502.10" y2="528.64" stroke-width="2.55"/>
<line x1="481.90" y1="533.20" x2="502.10" y2="533.20" stroke-width="2.55"/>
<line x1="481.90" y1="537.76" x2="502.10" y2="537.76" stroke-width="2.55"/>
<line x1="481.90" y1="542.32" x2="502.10" y2="542.32" stroke-width="2.55"/>
<line x1="481.90" y1="546.88" x2="502.10" y2="546.88" stroke-width="2.55"/>
<line x1="481.90" y1="551.44" x2="502.10" y2="551.44" stroke-width="2.55"/>
<line x1="481.90" y1="556.00" x2="502.10" y2="556.00" stroke-width="2.55"/>
<line x1="481.90" y1="560.56" x2="502.10" y2="560.56" stroke-width="2.55"/>
<line x1="481.90" y1="565.12" x2="502.10" y2="565.12" stroke-width="2.55"/>
<line x1="481.90" y1="569.68" x2="502.10" y2="569.68" stroke-width="2.55"/>
<line x1="481.90" y1="574.24" x2="502.10" y2="574.24" stroke-width="2.55"/>
<line x1="481.90" y1="578.80" x2="502.10" y2="578.80" stroke-width="2.55"/>
<line x1="481.90" y1="583.36" x2="502.10" y2="583.36" stroke-width="2.55"/>
<line x1="481.90" y1="587.92" x2="502.10" y2="587.92" stroke-width="2.55"/>
<line x1="481.90" y1="592.48" x2="502.10" y2="592.48" stroke-width="2.55"/>
<line x1="481.90" y1="597.04" x2="502.10" y2="597.04" stroke-width="2.55"/>
<line x1="481.90" y1="601.60" x2="502.10" y2="601.60" stroke-width="2.55"/>
<line x1="481.90" y1="606.16" x2="502.10" y2="606.16" stroke-width="2.55"/>
<line x1="481.90" y1="610.72" x2="502.10" y2="610.72" stroke-width="2.55"/>
<line x1="481.90" y1="615.28" x2="502.10" y2="615.28" stroke-width="2.55"/>
<line x1="481.90" y1="619.84" x2="502.10" y2="619.84" stroke-width="2.55"/>
<line x1="481.90" y1="624.40" x2="502.10" y2="624.40" stroke-width="2.55"/>
<line x1="481.90" y1="628.96" x2="502.10" y2="628.96" stroke-width="2.55"/>
<line x1="481.90" y1="633.52" x2="502.10" y2="633.52" stroke-width="2.55"/>
<line x1="481.90" y1="638.08" x2="502.10" y2="638.08" stroke-width="2.55"/>
<line x1="481.90" y1="642.64" x2="502.10" y2="642.64" stroke-width="2.55"/>
<line x1="481.90" y1="647.20" x2="502.10" y2="647.20" stroke-width="2.55"/>
<line x1="481.90" y1="651.76" x2="502.10" y2="651.76" stroke-width="2.55"/>
<line x1="481.90" y1="656.32" x2="502.10" y2="656.32" stroke-width="2.55"/>
<line x1="481.90" y1="660.88" x2="502.10" y2="660.88" stroke-width="2.55"/>
<line x1="481.90" y1="665.44" x2="502.10" y2="665.44" stroke-width="2.55"/>
<line x1="481.90" y1="670.00" x2="502.10" y2="670.00" stroke-width="2.55"/>
<line x1="481.90" y1="674.56" x2="502.10" y2="674.56" stroke-width="2.55"/>
<line x1="481.90" y1="679.12" x2="502.10" y2="679.12" stroke-width="2.55"/>
<line x1="481.90" y1="683.68" x2="502.10" y2="683.68" stroke-width="2.55"/>
<line x1="481.90" y1="688.24" x2="502.10" y2="688.24" stroke-width="2.55"/>
<line x1="481.90" y1="692.80" x2="502.10" y2="692.80" stroke-width="2.55"/>
<line x1="481.90" y1="697.36" x2="502.10" y2="697.36" stroke-width="2.55"/>
<line x1="481.90" y1="701.92" x2="502.10" y2="701.92" stroke-width="2.55"/>
</g>
<path d="M465.50,701.60 V448.20 H483.90 V701.60" fill="none" stroke-width="2.4" stroke-linejoin="miter"/>
<path d="M482.90,701.60 V446.60 H501.10 V701.60" fill="none" stroke-width="2.4" stroke-linejoin="miter"/>
<line x1="72.80" y1="701.60" x2="72.80" y2="398.80" stroke-width="2.4"/>
<line x1="71.60" y1="400.20" x2="513.35" y2="400.20" stroke-width="2.8"/>
<line x1="511.80" y1="398.80" x2="511.80" y2="701.60" stroke-width="3.1"/>
<line x1="71.50" y1="701.60" x2="513.10" y2="701.60" stroke-width="3.0"/>
<line x1="72.80" y1="701.60" x2="72.80" y2="705.80" stroke-width="1.1"/>
<line x1="511.80" y1="701.60" x2="511.80" y2="705.80" stroke-width="1.1"/>
<line x1="90.80" y1="649.50" x2="90.80" y2="662.50" stroke-width="1.8"/>
<line x1="87.30" y1="649.50" x2="94.30" y2="649.50" stroke-width="1.65"/>
<line x1="87.30" y1="662.50" x2="94.30" y2="662.50" stroke-width="1.65"/>
<line x1="109.50" y1="648.00" x2="109.50" y2="667.00" stroke-width="1.8"/>
<line x1="106.00" y1="648.00" x2="113.00" y2="648.00" stroke-width="1.65"/>
<line x1="106.00" y1="667.00" x2="113.00" y2="667.00" stroke-width="1.65"/>
<line x1="145.50" y1="640.00" x2="145.50" y2="655.50" stroke-width="1.8"/>
<line x1="142.00" y1="640.00" x2="149.00" y2="640.00" stroke-width="1.65"/>
<line x1="142.00" y1="655.50" x2="149.00" y2="655.50" stroke-width="1.65"/>
<line x1="164.30" y1="638.80" x2="164.30" y2="654.50" stroke-width="1.8"/>
<line x1="160.80" y1="638.80" x2="167.80" y2="638.80" stroke-width="1.65"/>
<line x1="160.80" y1="654.50" x2="167.80" y2="654.50" stroke-width="1.65"/>
<line x1="200.00" y1="597.50" x2="200.00" y2="629.50" stroke-width="1.8"/>
<line x1="196.50" y1="597.50" x2="203.50" y2="597.50" stroke-width="1.65"/>
<line x1="196.50" y1="629.50" x2="203.50" y2="629.50" stroke-width="1.65"/>
<line x1="219.30" y1="623.80" x2="219.30" y2="648.00" stroke-width="1.8"/>
<line x1="215.80" y1="623.80" x2="222.80" y2="623.80" stroke-width="1.65"/>
<line x1="215.80" y1="648.00" x2="222.80" y2="648.00" stroke-width="1.65"/>
<line x1="255.50" y1="562.00" x2="255.50" y2="636.30" stroke-width="1.8"/>
<line x1="252.00" y1="562.00" x2="259.00" y2="562.00" stroke-width="1.65"/>
<line x1="252.00" y1="636.30" x2="259.00" y2="636.30" stroke-width="1.65"/>
<line x1="274.50" y1="622.00" x2="274.50" y2="636.30" stroke-width="1.8"/>
<line x1="271.00" y1="622.00" x2="278.00" y2="622.00" stroke-width="1.65"/>
<line x1="271.00" y1="636.30" x2="278.00" y2="636.30" stroke-width="2.4"/>
<line x1="309.50" y1="550.00" x2="309.50" y2="612.00" stroke-width="1.8"/>
<line x1="306.00" y1="550.00" x2="313.00" y2="550.00" stroke-width="1.65"/>
<line x1="306.00" y1="612.00" x2="313.00" y2="612.00" stroke-width="1.65"/>
<line x1="328.80" y1="613.30" x2="328.80" y2="626.50" stroke-width="1.8"/>
<line x1="325.30" y1="613.30" x2="332.30" y2="613.30" stroke-width="1.65"/>
<line x1="325.30" y1="626.50" x2="332.30" y2="626.50" stroke-width="1.65"/>
<line x1="365.00" y1="576.30" x2="365.00" y2="643.30" stroke-width="1.8"/>
<line x1="361.50" y1="576.30" x2="368.50" y2="576.30" stroke-width="1.65"/>
<line x1="361.50" y1="643.30" x2="368.50" y2="643.30" stroke-width="1.65"/>
<line x1="383.80" y1="639.50" x2="383.80" y2="664.00" stroke-width="1.8"/>
<line x1="380.30" y1="639.50" x2="387.30" y2="639.50" stroke-width="1.65"/>
<line x1="380.30" y1="664.00" x2="387.30" y2="664.00" stroke-width="1.65"/>
<line x1="420.00" y1="610.80" x2="420.00" y2="645.00" stroke-width="1.8"/>
<line x1="416.50" y1="610.80" x2="423.50" y2="610.80" stroke-width="1.65"/>
<line x1="416.50" y1="645.00" x2="423.50" y2="645.00" stroke-width="1.65"/>
<line x1="438.00" y1="629.30" x2="438.00" y2="662.50" stroke-width="1.8"/>
<line x1="434.50" y1="629.30" x2="441.50" y2="629.30" stroke-width="1.65"/>
<line x1="434.50" y1="662.50" x2="441.50" y2="662.50" stroke-width="1.65"/>
<line x1="474.60" y1="417.90" x2="474.60" y2="475.70" stroke-width="1.8"/>
<line x1="471.10" y1="417.90" x2="478.10" y2="417.90" stroke-width="1.65"/>
<line x1="471.10" y1="475.70" x2="478.10" y2="475.70" stroke-width="2.4"/>
<line x1="492.90" y1="388.80" x2="492.90" y2="503.60" stroke-width="1.8"/>
<line x1="488.40" y1="388.80" x2="497.40" y2="388.80" stroke-width="1.65"/>
<line x1="488.40" y1="503.60" x2="497.40" y2="503.60" stroke-width="1.65"/>
<rect x="148" y="427.6" width="92.8" height="65.6" fill="#fff" stroke-width="1.2"/>
<rect x="156.3" y="436.9" width="15.7" height="14.8" fill="#000" stroke="none"/>
<clipPath id="sw1"><rect x="158.6" y="439.1" width="11.2" height="10.2"/></clipPath>
<rect x="158.6" y="439.1" width="11.2" height="10.2" fill="#fff" stroke="none"/>
<g clip-path="url(#sw1)">
<line x1="156.00" y1="455.20" x2="176.00" y2="435.20" stroke-width="1.5"/>
<line x1="156.00" y1="445.60" x2="176.00" y2="425.60" stroke-width="1.5"/>
</g>
<rect x="156.3" y="468.7" width="16.4" height="16.9" fill="#000" stroke="none"/>
<rect x="158.8" y="471.75" width="11.7" height="1.7" fill="#fff" stroke="none"/>
<rect x="158.8" y="475.95" width="11.7" height="1.7" fill="#fff" stroke="none"/>
<rect x="158.8" y="480.35" width="11.7" height="1.7" fill="#fff" stroke="none"/>
<g stroke="none">
<text x="33.16" y="414.2" font-size="19.5" textLength="33.69" lengthAdjust="spacingAndGlyphs" stroke="#000" stroke-width="0.12">250</text>
<text x="33.16" y="474.6" font-size="19.5" textLength="33.69" lengthAdjust="spacingAndGlyphs" stroke="#000" stroke-width="0.12">200</text>
<text x="33.56" y="535.2" font-size="19.5" textLength="33.49" lengthAdjust="spacingAndGlyphs" stroke="#000" stroke-width="0.12">150</text>
<text x="33.16" y="596.1" font-size="19.5" textLength="32.99" lengthAdjust="spacingAndGlyphs" stroke="#000" stroke-width="0.12">100</text>
<text x="43.26" y="653.7" font-size="19.5" textLength="22.29" lengthAdjust="spacingAndGlyphs" stroke="#000" stroke-width="0.12">50</text>
<text x="51.76" y="710.3" font-size="19.5" textLength="11.58" lengthAdjust="spacingAndGlyphs" stroke="#000" stroke-width="0.12">0</text>
<text transform="translate(23.1,657.2) rotate(-90)" font-size="29.5" stroke="#000" stroke-width="0.45" textLength="152.5" lengthAdjust="spacingAndGlyphs">Cell number</text>
<text x="0.8" y="416.2" font-size="25" font-weight="bold" textLength="15.5" lengthAdjust="spacingAndGlyphs" stroke="#000" stroke-width="0.6">B</text>
<text x="20.5" y="745.7" font-size="22" font-weight="bold" textLength="58.59" lengthAdjust="spacingAndGlyphs" stroke="#000" stroke-width="0.2">VEGF</text>
<text x="27.95" y="761.3" font-size="17.3" textLength="59.51" lengthAdjust="spacingAndGlyphs" stroke="#000" stroke-width="0.3">(ng/mL)</text>
<text x="98.56" y="736.8" font-size="19.3" textLength="11.18" lengthAdjust="spacingAndGlyphs" stroke="#000" stroke-width="0.12">0</text>
<text x="143.96" y="736.8" font-size="19.3" textLength="26.78" lengthAdjust="spacingAndGlyphs" stroke="#000" stroke-width="0.12">3.1</text>
<text x="196.66" y="736.8" font-size="19.3" textLength="28.68" lengthAdjust="spacingAndGlyphs" stroke="#000" stroke-width="0.12">6.2</text>
<text x="250.46" y="736.8" font-size="19.3" textLength="40.39" lengthAdjust="spacingAndGlyphs" stroke="#000" stroke-width="0.12">12.5</text>
<text x="314.66" y="736.8" font-size="19.3" textLength="23.19" lengthAdjust="spacingAndGlyphs" stroke="#000" stroke-width="0.12">25</text>
<text x="367.96" y="736.8" font-size="19.3" textLength="23.19" lengthAdjust="spacingAndGlyphs" stroke="#000" stroke-width="0.12">50</text>
<text x="416.16" y="736.8" font-size="19.3" textLength="33.39" lengthAdjust="spacingAndGlyphs" stroke="#000" stroke-width="0.12">100</text>
<text x="469.1" y="733.2" font-size="21.6" font-weight="bold" textLength="51.4" lengthAdjust="spacingAndGlyphs" stroke="#000" stroke-width="0.2">fMLP</text>
<text x="470.12" y="755.9" font-size="16.5" textLength="41.36" lengthAdjust="spacingAndGlyphs" stroke="#000" stroke-width="0.25">10nM</text>
<text x="183.05" y="450.8" font-size="17" textLength="42.19" lengthAdjust="spacingAndGlyphs" stroke="#000" stroke-width="0.3">None</text>
<text x="184.25" y="484.5" font-size="17.8" textLength="48.5" lengthAdjust="spacingAndGlyphs" stroke="#000" stroke-width="0.3">#1732</text>
</g>
</svg></body></html>
